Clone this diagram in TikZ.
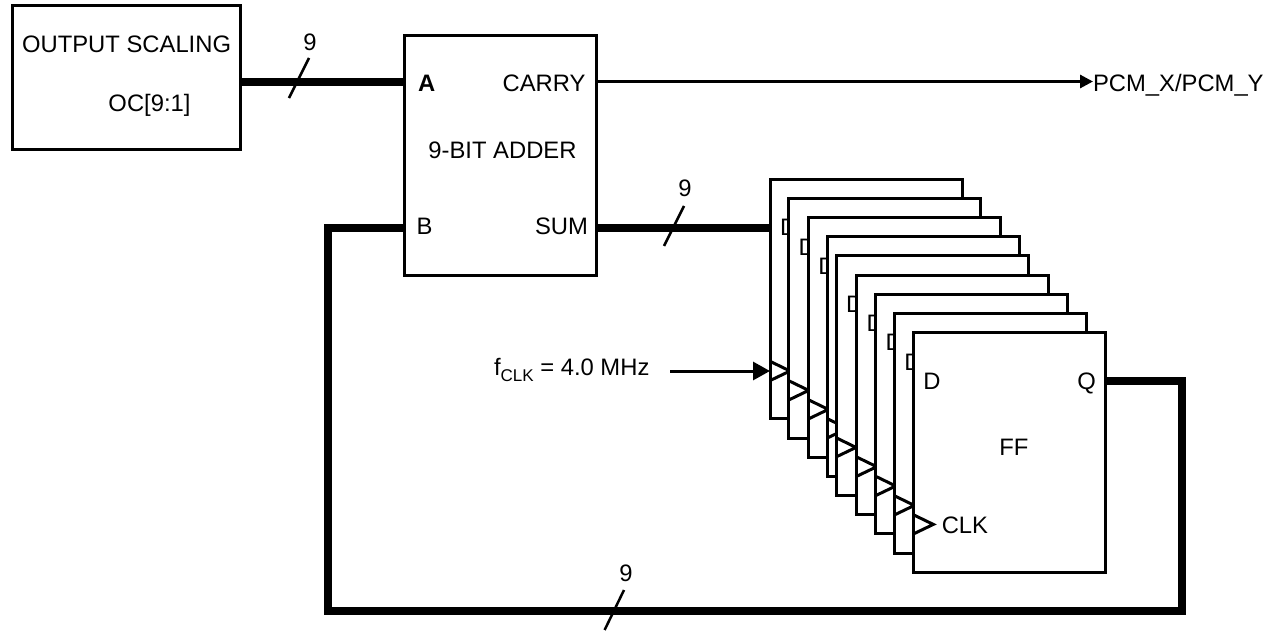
\documentclass[tikz,border=0pt]{standalone}
\usepackage{fontspec}
\setmainfont{Liberation Sans}
\usetikzlibrary{arrows.meta}
\begin{document}
\begin{tikzpicture}[x=1pt,y=-1pt,
  lbl/.style={inner sep=0pt, outer sep=0pt, font=\fontsize{23.8}{28}\selectfont},
  blk/.style={draw, line width=3pt, fill=white, inner sep=0pt, outer sep=0pt, anchor=north west},
  ffbox/.style={blk, minimum width=192pt, minimum height=239.6pt},
  bus/.style={line width=8pt, line join=miter},
  sig/.style={line width=3pt},
  tick/.style={line width=2.5pt},
  pin/.style={line width=3pt, line join=miter}]
\useasboundingbox (0,0) rectangle (1273,632);

% output scaling block
\node[blk, minimum width=228.3pt, minimum height=144pt] (scale) at (12.5,5) {};
\node[lbl, anchor=base] (scaleT) at (126.6,52) {OUTPUT SCALING};
\node[lbl, anchor=base] (scaleOC) at (149.5,111) {OC[9:1]};

% adder
\node[blk, minimum width=192.5pt, minimum height=240pt] (adder) at (404,35) {};
\node[lbl, anchor=base west] (adAt) at (418,91) {\bfseries A};
\node[lbl, anchor=base east] (adCt) at (585.5,91.5) {CARRY};
\node[lbl, anchor=base] (adT) at (502.5,158) {9-BIT ADDER};
\node[lbl, anchor=base west] (adBt) at (416.5,234) {B};
\node[lbl, anchor=base east] (adSt) at (588,234) {SUM};
\coordinate (adA) at (404,81.7);
\coordinate (adB) at (404,227.5);
\coordinate (adC) at (596.5,81.5);
\coordinate (adS) at (596.5,228);

% output label
\node[lbl, anchor=base west] (pcm) at (1093,91) {PCM\_X/PCM\_Y};

% stacked flip-flops (only the front one shows all its labels;
% the others show the clipped edge of their D and their clock wedge)
\foreach \i/\lx/\ty/\showD in {1/770/179.3/1, 2/788.7/198.7/1, 3/808.3/217.7/1, 4/827.3/236.7/0, 5/836/255.7/1, 6/856.7/275/1, 7/875.7/294.3/1, 8/894.3/313.7/1, 9/913.3/332.7/1}{
  \node[ffbox] (ff\i) at (\lx,\ty) {};
  \ifnum\showD=1
    \node[lbl, anchor=base west] (ffD\i) at ([shift={(10,56.5)}]ff\i.north west) {D};
  \fi
  \draw[pin] ([shift={(0,182)}]ff\i.north west) -- ([shift={(20,191.7)}]ff\i.north west) -- ([shift={(0,201.3)}]ff\i.north west);
}
\node[lbl, anchor=base east] (ffQ) at ([shift={(-9.5,56.5)}]ff9.north east) {Q};
\node[lbl, anchor=base] (ffF) at ([shift={(100.5,123)}]ff9.north west) {FF};
\node[lbl, anchor=base west] (ffC) at ([shift={(28.5,200.5)}]ff9.north west) {CLK};

% clock
\node[lbl, anchor=base west] (fclk) at (494,375) {f\raisebox{-6.7pt}{\fontsize{17}{17}\selectfont CLK} = 4.0 MHz};
\coordinate (ff1clk) at ([shift={(0,191.7)}]ff1.north west);
\draw[sig, -{Triangle[length=17pt,width=18pt]}] ([xshift=21pt]fclk.east |- ff1clk) -- (ff1clk);

% connectors
\draw[bus] (scale.east |- adA) -- (adA);
\draw[sig, -{Triangle[length=13pt,width=13pt]}] (adC) -- (adC -| pcm.west);
\draw[bus] (adS) -- (adS -| ff1.west);
\coordinate (ffQpin) at ([shift={(0,48)}]ff9.north east);
\coordinate (loopR) at (1182,610.5);
\coordinate (loopL) at (328,610.5);
\draw[bus] (ffQpin) -| (loopR) -- (loopL) |- (adB);

% bus width marks
\draw[tick] (309,58) -- (289,98);
\node[lbl, anchor=base] (w1) at (310,50) {9};
\draw[tick] (684,206) -- (664,246);
\node[lbl, anchor=base] (w2) at (685,196.5) {9};
\draw[tick] (624,590) -- (604.6,630);
\node[lbl, anchor=base] (w3) at (626,581.5) {9};
\end{tikzpicture}
\end{document}
